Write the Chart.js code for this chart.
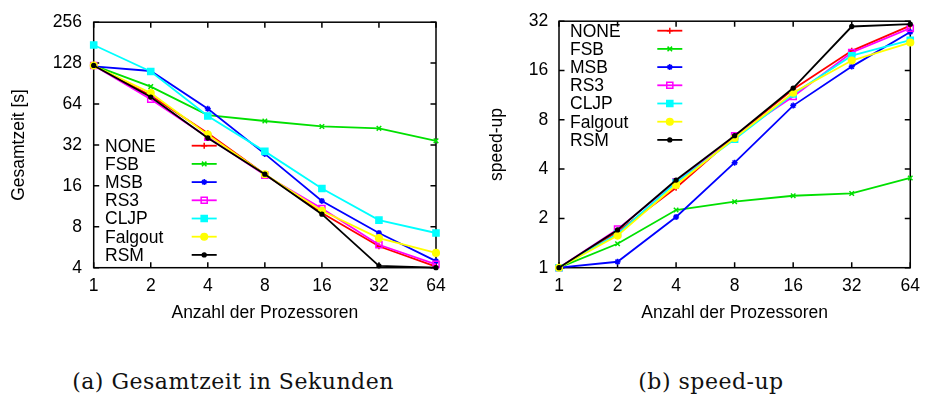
<!DOCTYPE html>
<html>
<head>
<meta charset="utf-8">
<script src="https://cdn.jsdelivr.net/npm/chart.js@4.4.1/dist/chart.umd.min.js"></script>
<style>
  html, body { margin: 0; padding: 0; background: #fff; }
  body { width: 928px; height: 396px; position: relative; overflow: hidden; }
  #c1 { position: absolute; left: 0; top: 0; }
  #c2 { position: absolute; left: 460px; top: 0; }
  .cap { position: absolute; top: 370px; font-family: "DejaVu Serif", serif; font-size: 22px; line-height: 24px;
         letter-spacing: 0.5px; color: #111; text-align: center; white-space: nowrap; }
</style>
</head>
<body>
<canvas id="c1" width="460" height="340"></canvas>
<canvas id="c2" width="468" height="340"></canvas>
<div class="cap" style="left:33px;width:400px;">(a) Gesamtzeit in Sekunden</div>
<div class="cap" style="left:561px;width:300px;">(b) speed-up</div>
<script>
// ---------- data ----------
const processors = ['1', '2', '4', '8', '16', '32', '64'];
const seriesNames = ['NONE', 'FSB', 'MSB', 'RS3', 'CLJP', 'Falgout', 'RSM'];

// (a) Gesamtzeit [s]
const timeNONE    = [123, 74, 39, 19.5, 10.1, 5.75, 4.07];
const timeFSB     = [123, 86, 53, 48, 43.8, 42.4, 34.3];
const timeMSB     = [121, 112, 59, 27.5, 12.4, 7.2, 4.47];
const timeRS3     = [123, 69.5, 36.5, 19.2, 10.9, 5.9, 4.23];
const timeCLJP    = [174, 111, 52.3, 28.7, 15.3, 8.95, 7.2];
const timeFalgout = [123, 77, 38.1, 19.5, 10.5, 6.6, 5.14];
const timeRSM     = [123, 72, 36, 19.5, 9.9, 4.13, 4.0];

// (b) speed-up
const speedNONE    = [1, 1.66, 3.08, 6.32, 12.3, 21.1, 30.1];
const speedFSB     = [1, 1.40, 2.25, 2.53, 2.75, 2.84, 3.53];
const speedMSB     = [1, 1.087, 2.04, 4.38, 9.77, 16.9, 27.5];
const speedRS3     = [1, 1.72, 3.35, 6.38, 11.1, 20.6, 29.0];
const speedCLJP    = [1, 1.61, 3.31, 6.09, 11.5, 19.7, 24.5];
const speedFalgout = [1, 1.57, 3.2, 6.2, 11.7, 18.4, 23.7];
const speedRSM     = [1, 1.70, 3.43, 6.4, 12.5, 29.7, 30.7];

const timeTicks  = [4, 8, 16, 32, 64, 128, 256];
const speedTicks = [1, 2, 4, 8, 16, 32];

// ---------- styles ----------
const styles = [
  { color: '#ff0000', pointStyle: 'cross',    r: 3,   fill: '#ff0000' },
  { color: '#00e000', pointStyle: 'crossRot', r: 3.2, fill: '#00e000' },
  { color: '#0000ff', pointStyle: 'star',     r: 3,   fill: '#0000ff' },
  { color: '#ff00ff', pointStyle: 'rect',     r: 4.3, fill: 'rgba(0,0,0,0)' },
  { color: '#00ffff', pointStyle: 'rect',     r: 4.3, fill: '#00ffff' },
  { color: '#ffff00', pointStyle: 'circle',   r: 3.3, fill: '#ffff00' },
  { color: '#000000', pointStyle: 'circle',   r: 1.9, fill: '#000000' }
];
const FONT = '"Liberation Sans", Arial, sans-serif';
const FS = 17.5;

function makeDatasets(arrs) {
  return arrs.map((d, i) => ({
    label: seriesNames[i],
    data: d,
    borderColor: styles[i].color,
    backgroundColor: styles[i].fill,
    pointBackgroundColor: styles[i].fill,
    pointBorderColor: styles[i].color,
    pointStyle: styles[i].pointStyle,
    pointRadius: styles[i].r,
    pointBorderWidth: 1.5,
    borderWidth: 1.8,
    tension: 0,
    clip: false,
    order: arrs.length - 1 - i
  }));
}

const TL = 5.5;
const framePlugin = {
  id: 'frame',
  beforeDatasetsDraw(chart) {
    const { ctx, chartArea: a, scales } = chart;
    const x = scales.x, y = scales.y;
    ctx.save();
    ctx.strokeStyle = '#000';
    ctx.lineWidth = 1.5;
    ctx.beginPath();
    x.ticks.forEach((t, i) => {
      const px = x.getPixelForTick(i);
      ctx.moveTo(px, a.bottom); ctx.lineTo(px, a.bottom - TL);
      ctx.moveTo(px, a.top); ctx.lineTo(px, a.top + TL);
    });
    y.ticks.forEach((t) => {
      const py = y.getPixelForValue(t.value);
      ctx.moveTo(a.left, py); ctx.lineTo(a.left + TL, py);
      ctx.moveTo(a.right, py); ctx.lineTo(a.right - TL, py);
    });
    ctx.stroke();
    ctx.strokeRect(a.left, a.top, a.right - a.left, a.bottom - a.top);
    ctx.restore();
  }
};

const keyPlugin = {
  id: 'gkey',
  afterDatasetsDraw(chart, args, opts) {
    const { ctx } = chart;
    ctx.save();
    ctx.font = FS + 'px ' + FONT;
    ctx.textBaseline = 'middle';
    ctx.textAlign = 'left';
    chart.data.datasets.forEach((ds, i) => {
      const yy = opts.y0 + i * opts.dy;
      ctx.fillStyle = '#000';
      ctx.fillText(ds.label, opts.textX, yy + 1);
      ctx.strokeStyle = ds.borderColor;
      ctx.lineWidth = ds.borderWidth;
      ctx.beginPath(); ctx.moveTo(opts.x1, yy); ctx.lineTo(opts.x2, yy); ctx.stroke();
      ctx.fillStyle = ds.pointBackgroundColor;
      ctx.strokeStyle = ds.pointBorderColor;
      ctx.lineWidth = ds.pointBorderWidth;
      Chart.helpers.drawPoint(ctx, { pointStyle: ds.pointStyle, radius: ds.pointRadius, rotation: 0, borderWidth: ds.pointBorderWidth }, (opts.x1 + opts.x2) / 2, yy);
    });
    ctx.restore();
  }
};

function makeChart(canvasId, cfg) {
  return new Chart(document.getElementById(canvasId), {
    type: 'line',
    data: { labels: processors, datasets: makeDatasets(cfg.series) },
    plugins: [framePlugin, keyPlugin],
    options: {
      responsive: false,
      animation: false,
      devicePixelRatio: 1,
      layout: { padding: { top: 18.3, right: cfg.padRight, left: 0, bottom: 0 } },
      plugins: {
        legend: { display: false },
        tooltip: { enabled: false },
        gkey: cfg.key
      },
      scales: {
        x: {
          type: 'category',
          offset: false,
          grid: { display: false, drawTicks: false },
          border: { display: false },
          ticks: { color: '#000', font: { family: FONT, size: FS }, padding: 8, autoSkip: false, maxRotation: 0 },
          title: { display: true, text: 'Anzahl der Prozessoren', color: '#000', font: { family: FONT, size: FS }, padding: { top: 0, bottom: 16.2 } },
          afterFit: (s) => { s.height = 72.3; }
        },
        y: {
          type: 'logarithmic',
          min: cfg.yTicks[0],
          max: cfg.yTicks[cfg.yTicks.length - 1],
          grid: { display: false, drawTicks: false },
          border: { display: false },
          afterBuildTicks: (s) => { s.ticks = cfg.yTicks.map(v => ({ value: v })); },
          ticks: { color: '#000', font: { family: FONT, size: FS }, padding: cfg.yPad, callback: (v) => String(v) },
          title: { display: true, text: cfg.yTitle, color: '#000', font: { family: FONT, size: FS }, padding: { top: cfg.yTitlePad, bottom: 0 } },
          afterFit: (s) => { s.width = cfg.yWidth; }
        }
      }
    }
  });
}

makeChart('c1', {
  series: [timeNONE, timeFSB, timeMSB, timeRS3, timeCLJP, timeFalgout, timeRSM],
  yTicks: timeTicks,
  yTitle: 'Gesamtzeit [s]',
  yTitlePad: 8.7,
  yPad: 11.7,
  yWidth: 93.7,
  padRight: 24,
  key: { textX: 105, x1: 191.7, x2: 216.7, y0: 145.7, dy: 18.2 }
});

makeChart('c2', {
  series: [speedNONE, speedFSB, speedMSB, speedRS3, speedCLJP, speedFalgout, speedRSM],
  yTicks: speedTicks,
  yTitle: 'speed-up',
  yTitlePad: 26.7,
  yPad: 10.7,
  yWidth: 99,
  padRight: 14.7,
  key: { textX: 110, x1: 197.3, x2: 222.3, y0: 30.7, dy: 18.2 }
});
</script>
</body>
</html>
